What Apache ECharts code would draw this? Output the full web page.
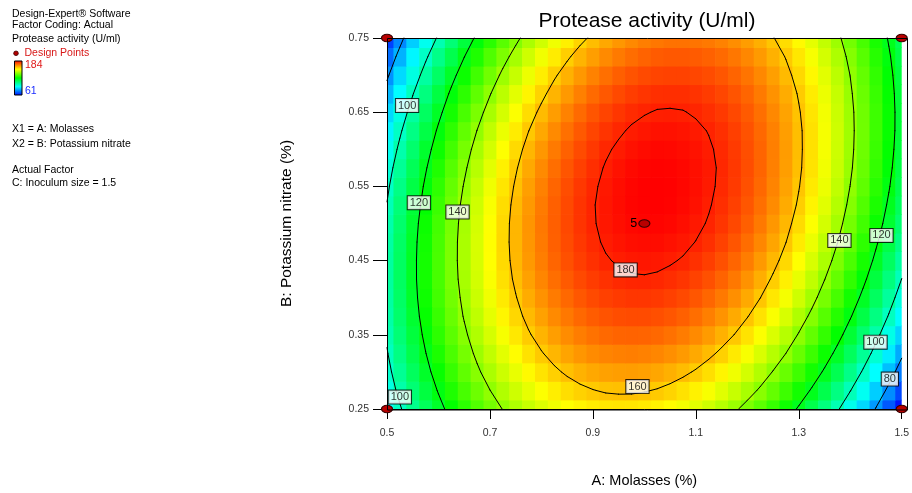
<!DOCTYPE html>
<html>
<head>
<meta charset="utf-8">
<title>Protease activity (U/ml)</title>
<script src="https://cdn.jsdelivr.net/npm/echarts@6/dist/echarts.min.js"></script>
<style>
html, body { margin: 0; padding: 0; background: #fff; }
#chart { width: 912px; height: 493px; }
</style>
</head>
<body>
<div id="chart"></div>
<script>
// A: Molasses (%) grid columns, B: Potassium nitrate (%) grid rows
var molasses = [0.5, 0.525, 0.55, 0.575, 0.6, 0.625, 0.65, 0.675, 0.7, 0.725, 0.75, 0.775, 0.8, 0.825, 0.85, 0.875, 0.9, 0.925, 0.95, 0.975, 1.0,
                1.025, 1.05, 1.075, 1.1, 1.125, 1.15, 1.175, 1.2, 1.225, 1.25, 1.275, 1.3, 1.325, 1.35, 1.375, 1.4, 1.425, 1.45, 1.475, 1.5];
var nitrate = [0.25, 0.275, 0.3, 0.325, 0.35, 0.375, 0.4, 0.425, 0.45, 0.475, 0.5, 0.525, 0.55, 0.575, 0.6, 0.625, 0.65, 0.675, 0.7, 0.725, 0.75];

// protease activity (U/ml), one row per nitrate level (bottom to top)
var activity = [
  [92.2, 99.1, 105.6, 111.7, 117.4, 122.8, 127.7, 132.3, 136.4, 140.2, 143.5, 146.5, 149.1, 151.3, 153.1, 154.5, 155.5, 156.2, 156.4, 156.3, 155.7, 154.8, 153.5, 151.8, 149.7, 147.3, 144.4, 141.2, 137.5, 133.5, 129.0, 124.2, 119.0, 113.4, 107.4, 101.0, 94.2, 87.1, 79.5, 71.6, 63.2],
  [95.1, 102.1, 108.6, 114.8, 120.6, 126.1, 131.1, 135.7, 139.9, 143.8, 147.3, 150.4, 153.0, 155.3, 157.2, 158.7, 159.8, 160.6, 160.9, 160.9, 160.4, 159.6, 158.4, 156.8, 154.8, 152.4, 149.6, 146.5, 142.9, 139.0, 134.6, 129.9, 124.7, 119.2, 113.3, 107.0, 100.3, 93.3, 85.8, 78.0, 69.7],
  [97.5, 104.6, 111.3, 117.6, 123.4, 129.0, 134.1, 138.8, 143.1, 147.1, 150.6, 153.8, 156.5, 158.9, 160.9, 162.5, 163.7, 164.6, 165.0, 165.1, 164.7, 164.0, 162.8, 161.3, 159.4, 157.1, 154.4, 151.4, 147.9, 144.0, 139.7, 135.1, 130.1, 124.7, 118.9, 112.7, 106.1, 99.1, 91.7, 84.0, 75.8],
  [99.5, 106.7, 113.4, 119.8, 125.8, 131.4, 136.6, 141.4, 145.8, 149.9, 153.5, 156.8, 159.6, 162.1, 164.2, 165.9, 167.2, 168.1, 168.6, 168.8, 168.5, 167.9, 166.8, 165.4, 163.6, 161.4, 158.8, 155.8, 152.4, 148.7, 144.5, 140.0, 135.0, 129.7, 124.0, 117.9, 111.4, 104.5, 97.2, 89.6, 81.5],
  [101.1, 108.4, 115.2, 121.7, 127.8, 133.5, 138.7, 143.7, 148.2, 152.3, 156.0, 159.4, 162.3, 164.9, 167.1, 168.9, 170.2, 171.3, 171.9, 172.1, 171.9, 171.4, 170.4, 169.1, 167.4, 165.3, 162.7, 159.9, 156.6, 152.9, 148.8, 144.4, 139.5, 134.3, 128.7, 122.7, 116.2, 109.4, 102.2, 94.7, 86.7],
  [102.3, 109.7, 116.6, 123.2, 129.3, 135.1, 140.5, 145.5, 150.1, 154.3, 158.1, 161.6, 164.6, 167.3, 169.5, 171.4, 172.9, 174.0, 174.7, 175.0, 174.9, 174.5, 173.6, 172.4, 170.7, 168.7, 166.3, 163.5, 160.3, 156.7, 152.7, 148.4, 143.6, 138.5, 132.9, 127.0, 120.7, 114.0, 106.9, 99.4, 91.5],
  [103.0, 110.5, 117.5, 124.2, 130.4, 136.3, 141.7, 146.8, 151.5, 155.8, 159.7, 163.3, 166.4, 169.2, 171.5, 173.5, 175.1, 176.3, 177.0, 177.5, 177.5, 177.1, 176.3, 175.2, 173.6, 171.7, 169.4, 166.7, 163.6, 160.1, 156.2, 152.0, 147.3, 142.3, 136.8, 131.0, 124.7, 118.1, 111.1, 103.7, 95.9],
  [103.3, 110.9, 118.0, 124.8, 131.1, 137.1, 142.6, 147.8, 152.6, 157.0, 161.0, 164.6, 167.8, 170.7, 173.1, 175.2, 176.8, 178.1, 179.0, 179.5, 179.6, 179.3, 178.6, 177.6, 176.1, 174.3, 172.1, 169.5, 166.4, 163.0, 159.2, 155.1, 150.5, 145.6, 140.2, 134.5, 128.3, 121.8, 114.9, 107.6, 99.9],
  [103.2, 110.8, 118.0, 124.9, 131.3, 137.4, 143.0, 148.3, 153.2, 157.7, 161.8, 165.5, 168.8, 171.8, 174.3, 176.5, 178.2, 179.6, 180.5, 181.1, 181.3, 181.1, 180.5, 179.6, 178.2, 176.5, 174.3, 171.8, 168.9, 165.6, 161.9, 157.8, 153.3, 148.5, 143.2, 137.6, 131.5, 125.1, 118.2, 111.0, 103.4],
  [102.7, 110.4, 117.7, 124.6, 131.1, 137.3, 143.0, 148.4, 153.4, 158.0, 162.1, 165.9, 169.3, 172.4, 175.0, 177.3, 179.1, 180.6, 181.6, 182.3, 182.6, 182.5, 182.0, 181.2, 179.9, 178.3, 176.2, 173.8, 170.9, 167.7, 164.1, 160.1, 155.7, 150.9, 145.7, 140.2, 134.2, 127.9, 121.1, 114.0, 106.5],
  [101.7, 109.5, 116.9, 124.0, 130.6, 136.8, 142.6, 148.1, 153.1, 157.8, 162.1, 166.0, 169.5, 172.6, 175.3, 177.7, 179.6, 181.2, 182.3, 183.1, 183.5, 183.5, 183.1, 182.3, 181.1, 179.6, 177.6, 175.3, 172.5, 169.4, 165.8, 161.9, 157.6, 153.0, 147.9, 142.4, 136.5, 130.3, 123.7, 116.7, 109.2],
  [100.3, 108.2, 115.7, 122.8, 129.5, 135.9, 141.8, 147.4, 152.5, 157.3, 161.6, 165.6, 169.2, 172.4, 175.2, 177.7, 179.7, 181.4, 182.6, 183.5, 183.9, 184.0, 183.7, 183.0, 181.9, 180.4, 178.5, 176.3, 173.6, 170.6, 167.2, 163.4, 159.2, 154.6, 149.6, 144.2, 138.4, 132.3, 125.7, 118.8, 111.5],
  [98.5, 106.5, 114.1, 121.3, 128.1, 134.5, 140.5, 146.2, 151.4, 156.3, 160.7, 164.8, 168.5, 171.8, 174.7, 177.2, 179.3, 181.1, 182.4, 183.4, 183.9, 184.1, 183.9, 183.3, 182.3, 180.9, 179.1, 177.0, 174.4, 171.5, 168.1, 164.4, 160.3, 155.8, 150.9, 145.6, 139.9, 133.9, 127.4, 120.6, 113.3],
  [96.3, 104.4, 112.0, 119.3, 126.2, 132.7, 138.8, 144.6, 149.9, 154.9, 159.4, 163.6, 167.3, 170.7, 173.7, 176.3, 178.5, 180.4, 181.8, 182.9, 183.5, 183.8, 183.6, 183.1, 182.2, 181.0, 179.3, 177.2, 174.7, 171.9, 168.6, 165.0, 161.0, 156.6, 151.7, 146.6, 141.0, 135.0, 128.6, 121.9, 114.7],
  [93.6, 101.8, 109.5, 116.9, 123.9, 130.5, 136.7, 142.6, 148.0, 153.1, 157.7, 162.0, 165.8, 169.3, 172.3, 175.0, 177.3, 179.3, 180.8, 182.0, 182.7, 183.1, 183.0, 182.6, 181.8, 180.6, 179.0, 177.0, 174.6, 171.9, 168.7, 165.2, 161.2, 156.9, 152.2, 147.1, 141.6, 135.7, 129.4, 122.8, 115.7],
  [90.5, 98.8, 106.6, 114.1, 121.2, 127.9, 134.2, 140.1, 145.6, 150.8, 155.5, 159.9, 163.8, 167.4, 170.5, 173.3, 175.7, 177.7, 179.3, 180.6, 181.4, 181.9, 181.9, 181.6, 180.9, 179.8, 178.3, 176.4, 174.1, 171.5, 168.4, 165.0, 161.1, 156.9, 152.2, 147.2, 141.8, 136.0, 129.8, 123.3, 116.3],
  [87.0, 95.4, 103.3, 110.9, 118.0, 124.8, 131.2, 137.2, 142.8, 148.1, 152.9, 157.4, 161.4, 165.1, 168.3, 171.2, 173.7, 175.8, 177.5, 178.8, 179.7, 180.3, 180.4, 180.2, 179.5, 178.5, 177.1, 175.3, 173.1, 170.6, 167.6, 164.3, 160.5, 156.4, 151.8, 146.9, 141.6, 135.9, 129.8, 123.3, 116.4],
  [83.1, 91.6, 99.6, 107.3, 114.5, 121.4, 127.8, 133.9, 139.6, 145.0, 149.9, 154.4, 158.5, 162.3, 165.6, 168.6, 171.2, 173.4, 175.2, 176.6, 177.6, 178.3, 178.5, 178.4, 177.8, 176.9, 175.6, 173.9, 171.8, 169.3, 166.4, 163.2, 159.5, 155.5, 151.0, 146.2, 140.9, 135.3, 129.3, 122.9, 116.1],
  [78.7, 87.3, 95.4, 103.2, 110.5, 117.5, 124.0, 130.2, 136.0, 141.4, 146.4, 151.1, 155.3, 159.2, 162.6, 165.7, 168.3, 170.6, 172.5, 174.0, 175.1, 175.8, 176.1, 176.1, 175.6, 174.8, 173.6, 172.0, 170.0, 167.6, 164.8, 161.6, 158.0, 154.1, 149.7, 145.0, 139.9, 134.4, 128.4, 122.1, 115.4],
  [74.0, 82.6, 90.8, 98.7, 106.1, 113.2, 119.8, 126.1, 132.0, 137.5, 142.5, 147.3, 151.6, 155.6, 159.1, 162.3, 165.0, 167.4, 169.3, 170.9, 172.1, 173.0, 173.4, 173.4, 173.0, 172.3, 171.2, 169.7, 167.7, 165.4, 162.7, 159.7, 156.2, 152.3, 148.0, 143.4, 138.4, 133.0, 127.1, 120.9, 114.3],
  [68.8, 77.5, 85.8, 93.7, 101.2, 108.4, 115.1, 121.5, 127.5, 133.1, 138.3, 143.1, 147.5, 151.5, 155.1, 158.4, 161.2, 163.7, 165.8, 167.5, 168.8, 169.7, 170.2, 170.3, 170.0, 169.4, 168.3, 166.9, 165.1, 162.9, 160.3, 157.3, 153.9, 150.1, 145.9, 141.4, 136.4, 131.1, 125.4, 119.3, 112.8]
];

var levels = [80, 100, 120, 140, 160, 180];
var colorMin = 61, colorMax = 184;

var xTicks = [0.5, 0.7, 0.9, 1.1, 1.3, 1.5];
var xTickLabels = ['0.5', '0.7', '0.9', '1.1', '1.3', '1.5'];
var yTicks = [0.25, 0.35, 0.45, 0.55, 0.65, 0.75];
var yTickLabels = ['0.25', '0.35', '0.45', '0.55', '0.65', '0.75'];

// design points (corners + centre with 5 replicates)
var designMolasses = [0.5, 1.5, 0.5, 1.5, 1.0];
var designNitrate = [0.25, 0.25, 0.75, 0.75, 0.5];
var designReps = [1, 1, 1, 1, 5];

// where the contour value boxes sit
var labelSpots = [
  [100, 0.539, 0.659], [120, 0.562, 0.528], [140, 0.637, 0.5155],
  [180, 0.9635, 0.4375], [160, 0.9866, 0.2802], [100, 0.525, 0.2661],
  [140, 1.379, 0.4772], [120, 1.4607, 0.4839], [100, 1.4491, 0.3401], [80, 1.477, 0.2903]
];

var font = '"Liberation Sans", Arial, sans-serif';
var rainbow = ['#0000ff', '#00ffff', '#00ff00', '#ffff00', '#ff0000'];

var cells = [];
for (var i = 0; i < nitrate.length; i++) {
  for (var j = 0; j < molasses.length; j++) {
    cells.push([molasses[j], nitrate[i], activity[i][j]]);
  }
}
var dx = molasses[1] - molasses[0];
var dy = nitrate[1] - nitrate[0];

// marching squares on the grid
function contour(level) {
  var segs = [];
  for (var i = 0; i < nitrate.length - 1; i++) {
    for (var j = 0; j < molasses.length - 1; j++) {
      var c = [
        [molasses[j], nitrate[i], activity[i][j]],
        [molasses[j + 1], nitrate[i], activity[i][j + 1]],
        [molasses[j + 1], nitrate[i + 1], activity[i + 1][j + 1]],
        [molasses[j], nitrate[i + 1], activity[i + 1][j]]
      ];
      var pts = [];
      for (var k = 0; k < 4; k++) {
        var a = c[k], b = c[(k + 1) % 4];
        if ((a[2] < level) !== (b[2] < level)) {
          var t = (level - a[2]) / (b[2] - a[2]);
          pts.push([a[0] + t * (b[0] - a[0]), a[1] + t * (b[1] - a[1])]);
        }
      }
      for (var p = 0; p + 1 < pts.length; p += 2) {
        segs.push([pts[p][0], pts[p][1], pts[p + 1][0], pts[p + 1][1]]);
      }
    }
  }
  return segs;
}
var segments = [];
levels.forEach(function (l) { segments = segments.concat(contour(l)); });

var dom = document.getElementById('chart');
var myChart = echarts.init(dom);
var option = {
  animation: false,
  textStyle: { fontFamily: font },
  title: {
    text: 'Protease activity (U/ml)',
    left: 647, top: 11, textAlign: 'center', padding: 0,
    textStyle: { fontSize: 21, fontWeight: 'normal', color: '#000', fontFamily: font }
  },
  grid: { left: 387, top: 38, width: 521, height: 372 },
  visualMap: {
    show: false, type: 'continuous', seriesIndex: 0, dimension: 2,
    min: colorMin, max: colorMax,
    inRange: { color: rainbow }
  },
  xAxis: {
    type: 'value',
    min: xTicks[0], max: xTicks[xTicks.length - 1],
    interval: Math.round((xTicks[1] - xTicks[0]) * 1000) / 1000,
    name: 'A: Molasses (%)', nameLocation: 'middle', nameGap: 64,
    nameTextStyle: { fontSize: 14.5, color: '#000', fontFamily: font },
    axisLine: { lineStyle: { color: '#000', width: 1 } },
    axisTick: { length: 10, lineStyle: { color: '#000' } },
    axisLabel: {
      margin: 19, fontSize: 10.5, color: '#333', fontFamily: font,
      formatter: function (v, idx) { return xTickLabels[idx]; }
    },
    splitLine: { show: false }
  },
  yAxis: {
    type: 'value',
    min: yTicks[0], max: yTicks[yTicks.length - 1],
    interval: Math.round((yTicks[1] - yTicks[0]) * 1000) / 1000,
    name: 'B: Potassium nitrate (%)', nameLocation: 'middle', nameGap: 92, nameRotate: 90,
    nameTextStyle: { fontSize: 15.5, color: '#000', fontFamily: font },
    axisLine: { show: true, lineStyle: { color: '#000', width: 1 } },
    axisTick: { show: true, length: 14, lineStyle: { color: '#000' } },
    axisLabel: {
      margin: 18, fontSize: 10.5, color: '#333', fontFamily: font,
      formatter: function (v, idx) { return yTickLabels[idx]; }
    },
    splitLine: { show: false }
  },
  graphic: [
    { type: 'rect', z: 100, silent: true,
      shape: { x: 387.5, y: 38.5, width: 520, height: 371.5 },
      style: { fill: 'none', stroke: '#000', lineWidth: 1 } },
    { type: 'text', left: 12, top: 9, style: { text: 'Design-Expert\u00ae Software', font: '10.5px ' + font, fill: '#000' } },
    { type: 'text', left: 12, top: 20, style: { text: 'Factor Coding: Actual', font: '10.5px ' + font, fill: '#000' } },
    { type: 'text', left: 12, top: 34, style: { text: 'Protease activity (U/ml)', font: '10.5px ' + font, fill: '#000' } },
    { type: 'circle', shape: { cx: 16, cy: 53.3, r: 2.3 }, style: { fill: '#b00000', stroke: '#400000', lineWidth: 0.8 } },
    { type: 'text', left: 24.5, top: 47.3, style: { text: 'Design Points', font: '10.5px ' + font, fill: '#d81818' } },
    { type: 'rect', shape: { x: 14.5, y: 61, width: 7.5, height: 34 },
      style: {
        stroke: '#000', lineWidth: 1,
        fill: new echarts.graphic.LinearGradient(0, 0, 0, 1, [
          { offset: 0, color: rainbow[4] }, { offset: 0.25, color: rainbow[3] },
          { offset: 0.5, color: rainbow[2] }, { offset: 0.75, color: rainbow[1] },
          { offset: 1, color: rainbow[0] }
        ])
      } },
    { type: 'text', left: 25, top: 59.3, style: { text: String(colorMax), font: '10.5px ' + font, fill: '#e01818' } },
    { type: 'text', left: 25, top: 85.3, style: { text: String(colorMin), font: '10.5px ' + font, fill: '#1a2cff' } },
    { type: 'text', left: 12, top: 124, style: { text: 'X1 = A: Molasses', font: '10.5px ' + font, fill: '#000' } },
    { type: 'text', left: 12, top: 138.3, style: { text: 'X2 = B: Potassium nitrate', font: '10.5px ' + font, fill: '#000' } },
    { type: 'text', left: 12, top: 164.3, style: { text: 'Actual Factor', font: '10.5px ' + font, fill: '#000' } },
    { type: 'text', left: 12, top: 177.7, style: { text: 'C: Inoculum size = 1.5', font: '10.5px ' + font, fill: '#000' } }
  ],
  series: [
    {
      type: 'custom',
      silent: true,
      renderItem: function (params, api) {
        var x = api.value(0), y = api.value(1);
        var p0 = api.coord([x - dx / 2, y + dy / 2]);
        var p1 = api.coord([x + dx / 2, y - dy / 2]);
        var rect = echarts.graphic.clipRectByRect(
          { x: p0[0], y: p0[1], width: p1[0] - p0[0] + 0.7, height: p1[1] - p0[1] + 0.7 },
          { x: params.coordSys.x, y: params.coordSys.y, width: params.coordSys.width, height: params.coordSys.height }
        );
        return rect && { type: 'rect', shape: rect, style: { fill: api.visual('color') } };
      },
      encode: { x: 0, y: 1 },
      data: cells,
      z: 1
    },
    {
      type: 'custom',
      silent: true,
      renderItem: function (params, api) {
        var p = api.coord([api.value(0), api.value(1)]);
        var q = api.coord([api.value(2), api.value(3)]);
        return {
          type: 'line',
          shape: { x1: p[0], y1: p[1], x2: q[0], y2: q[1] },
          style: { stroke: '#000', lineWidth: 1, lineCap: 'round' }
        };
      },
      encode: { x: [0, 2], y: [1, 3] },
      data: segments,
      z: 3
    },
    {
      type: 'scatter',
      silent: true,
      symbolSize: 0,
      data: labelSpots.map(function (s) { return [s[1], s[2], s[0]]; }),
      label: {
        show: true, position: 'inside',
        formatter: function (p) { return String(p.value[2]); },
        fontSize: 11, color: '#000', fontFamily: font,
        backgroundColor: '#fff', borderColor: '#000', borderWidth: 1,
        padding: [1, 2, 0, 2], lineHeight: 12
      },
      z: 5
    },
    {
      type: 'scatter',
      silent: true,
      clip: false,
      symbol: 'circle',
      symbolSize: [11, 7.5],
      itemStyle: { color: '#b80000', borderColor: '#3a0000', borderWidth: 1, opacity: 1 },
      data: designMolasses.map(function (m, k) { return [m, designNitrate[k], designReps[k]]; }),
      label: {
        show: true, position: 'left', distance: 1,
        formatter: function (p) { return p.value[2] > 1 ? String(p.value[2]) : ''; },
        fontSize: 12.5, color: '#000', fontFamily: font
      },
      z: 6
    }
  ]
};
myChart.setOption(option);
</script>
</body>
</html>
